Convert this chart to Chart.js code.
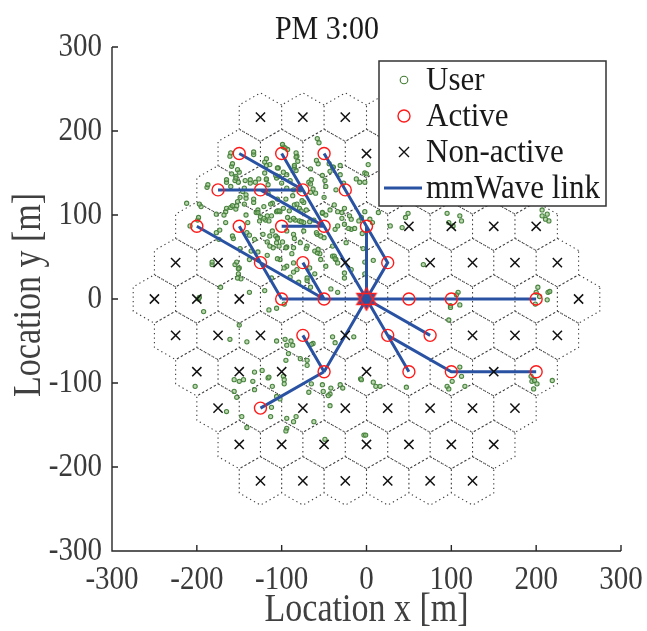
<!DOCTYPE html>
<html>
<head>
<meta charset="utf-8">
<script src="https://cdn.jsdelivr.net/npm/chart.js@4.4.0/dist/chart.umd.min.js"></script>
<style>
  html, body { margin: 0; padding: 0; background: #fff; }
  canvas { display: block; }
</style>
</head>
<body>
<canvas id="chart1" width="647" height="631"></canvas>
<script>
// ---- datos ----
const chartTitle = 'PM 3:00';
const xTicks = [-300, -200, -100, 0, 100, 200, 300];
const yTicks = [-300, -200, -100, 0, 100, 200, 300];

// filas de celdas hexagonales (y de la fila, x de los centros)
const rowY = [216.5, 173.2, 129.9, 86.6, 43.3, 0, -43.3, -86.6, -129.9, -173.2, -216.5];
const rowX = [
  [-125, -75, -25, 25, 75, 125],
  [-150, -100, -50, 0, 50, 100, 150],
  [-175, -125, -75, -25, 25, 75, 125, 175],
  [-200, -150, -100, -50, 0, 50, 100, 150, 200],
  [-225, -175, -125, -75, -25, 25, 75, 125, 175, 225],
  [-250, -200, -150, -100, -50, 0, 50, 100, 150, 200, 250],
  [-225, -175, -125, -75, -25, 25, 75, 125, 175, 225],
  [-200, -150, -100, -50, 0, 50, 100, 150, 200],
  [-175, -125, -75, -25, 25, 75, 125, 175],
  [-150, -100, -50, 0, 50, 100, 150],
  [-125, -75, -25, 25, 75, 125]
];

// estacion base (origen)
const rootNode = [0, 0];

// celdas activas
const activeCells = [
  [-150, 173.2], [-100, 173.2], [-50, 173.2],
  [-175, 129.9], [-125, 129.9], [-75, 129.9], [-25, 129.9],
  [-200, 86.6], [-150, 86.6], [-100, 86.6], [-50, 86.6], [0, 86.6],
  [-125, 43.3], [-75, 43.3], [25, 43.3],
  [-100, 0], [-50, 0], [50, 0], [100, 0], [200, 0],
  [-75, -43.3], [25, -43.3], [75, -43.3],
  [-50, -86.6], [50, -86.6], [100, -86.6], [200, -86.6],
  [-125, -129.9]
];

// celdas no activas
const inactiveCells = [
  [-125, 216.5], [-75, 216.5], [-25, 216.5], [25, 216.5], [75, 216.5], [125, 216.5],
  [0, 173.2], [50, 173.2], [100, 173.2], [150, 173.2],
  [25, 129.9], [75, 129.9], [125, 129.9], [175, 129.9],
  [50, 86.6], [100, 86.6], [150, 86.6], [200, 86.6],
  [-225, 43.3], [-175, 43.3], [-25, 43.3], [75, 43.3], [125, 43.3], [175, 43.3], [225, 43.3],
  [-250, 0], [-200, 0], [-150, 0], [250, 0],
  [-225, -43.3], [-175, -43.3], [-125, -43.3], [-25, -43.3], [125, -43.3], [175, -43.3], [225, -43.3],
  [-200, -86.6], [-150, -86.6], [-100, -86.6], [0, -86.6], [150, -86.6],
  [-175, -129.9], [-75, -129.9], [-25, -129.9], [25, -129.9], [75, -129.9], [125, -129.9], [175, -129.9],
  [-150, -173.2], [-100, -173.2], [-50, -173.2], [0, -173.2], [50, -173.2], [100, -173.2], [150, -173.2],
  [-125, -216.5], [-75, -216.5], [-25, -216.5], [25, -216.5], [75, -216.5], [125, -216.5]
];

// enlaces mmWave (polilineas)
const links = [
  [[-150, 173.2], [-75, 129.9]],
  [[-175, 129.9], [-75, 129.9]],
  [[-100, 173.2], [-50, 86.6]],
  [[-125, 129.9], [-50, 86.6]],
  [[-100, 86.6], [-50, 86.6]],
  [[-50, 86.6], [0, 0]],
  [[-50, 173.2], [0, 86.6]],
  [[0, 86.6], [0, 0]],
  [[0, 86.6], [25, 43.3], [0, 0]],
  [[-200, 86.6], [-50, 0]],
  [[-150, 86.6], [-100, 0]],
  [[-75, 43.3], [-50, 0]],
  [[-100, 0], [200, 0]],
  [[0, 0], [75, -43.3]],
  [[0, 0], [50, -86.6]],
  [[25, -43.3], [100, -86.6], [200, -86.6]],
  [[0, 0], [-50, -86.6]],
  [[-75, -43.3], [-50, -86.6]],
  [[-125, -129.9], [-50, -86.6]]
];

// usuarios (estimados de la figura)
const users = [
  [-98,181],[-93,178],[-56,186],[-133,172],[-161,170],[-82,170],[-81,164],[-159,158],[-120,163],[-104,156],
  [-94,148],[-83,153],[-85,157],[-57,161],[-40,157],[-31,159],[-43,152],[-66,155],[-150,151],[-154,146],
  [-165,139],[-160,134],[-155,141],[-137,138],[-131,139],[-144,132],[-149,121],[-146,128],[-188,133],[-120,150],
  [-118,142],[-106,144],[-100,138],[-90,141],[-86,130],[-78,130],[-68,139],[-66,127],[-60,126],[-49,141],
  [-48,134],[-36,130],[-50,121],[-31,148],[-8,139],[-27,138],
  [-212,114],[-195,110],[-166,104],[-160,109],[-154,107],[-152,116],[-142,120],[-133,115],[-116,126],[-111,114],
  [-121,110],[-130,103],[-125,98],[-117,99],[-119,94],[-126,93],[-106,104],[-102,104],[-98,108],[-85,112],
  [-74,115],[-79,108],[-71,106],[-90,94],[-84,94],[-74,91],[-62,94],[-52,102],[-48,100],[-43,106],
  [-29,96],[-18,95],[-9,93],[-2,104],[-26,108],[-38,112],[-199,94],[-208,87],[-166,91],[-177,79],
  [-174,71],[-157,72],[-141,79],[-132,71],[-122,77],[-114,75],[-105,73],[-106,67],[-110,61],[-117,68],
  [-94,81],[-86,77],[-74,81],[-58,77],[-54,75],[-50,73],[-37,83],[-26,89],[-18,83],[-4,60],
  [-94,62],[-86,61],[-78,67],[-102,47],[-94,39],[-86,43],[-82,35],[-55,54],[-54,47],[-48,39],
  [-40,51],[-36,47],[-34,43],[-26,31],[-18,35],[-182,41],[-155,41],[-150,37],[-151,30],[-148,24],
  [-138,47],[-117,52],[-128,56],[-90,26],[-80,20],[-70,22],[-66,14],[-42,12],[-34,8],[-120,10],
  [-198,0],[-138,8],[-172,14],
  [-105,105],[-103,105],[-91,105],[-77,105],[-52,103],[-34,104],[-29,103],[-20,99],[-6,97],[-112,99],
  [-115,93],[-93,97],[-86,96],[-79,93],[-77,92],[-67,92],[-59,79],[-34,87],[-21,84],[-14,84],
  [-5,78],[-111,81],[-107,75],[-105,72],[-99,68],[-85,72],[-70,63],[-71,60],[-61,57],[-58,55],
  [-57,59],[-40,63],[-38,51],[-37,48],[-24,67],[-114,63],[-103,63],[-95,61],[-105,48],[-88,54],
  [-97,37],[-86,32],[-67,37],[-61,30],[-112,25],[-70,25],[-26,25],[-2,30],
  [-99,184],[-96,180],[-83,174],[-83,169],[-58,191],[-59,165],[-44,161],[-39,157],[-52,147],[-65,142],
  [-66,137],[-63,131],[-85,159],[-105,156],[-107,147],[-98,151],[-103,146],[-114,160],[-118,143],[-116,136],
  [-94,132],[-12,143],[-2,150],[-105,119],[-95,119],[-87,123],[-82,113],[-76,117],[-113,113],
  [-160,174],[-133,175],[-158,161],[-152,154],[-159,149],[-154,144],[-165,142],[-187,136],[-151,139],[-143,141],
  [-137,142],[-127,143],[-118,167],[-118,159],[-142,124],[-133,119],[-197,113],[-158,111],[-144,113],[-165,108],
  [-128,106],
  [-198,97],[-177,101],[-168,100],[-153,111],[-142,100],[-128,103],[-121,96],[-140,91],[-173,82],[-158,75],
  [-138,76],[-149,60],[-136,57],[-153,44],[-151,36],[-152,25],[-182,44],[-197,2],
  [0,149],[-2,139],[2,160],[4,95],[7,91],[14,103],[46,97],[49,102],[42,85],[28,87],
  [95,102],[97,91],[110,99],[112,93],[102,87],[207,106],[207,99],[213,101],[215,93],[211,95],
  [67,41],[-2,44],[8,46],[202,14],[200,8],[214,8],[108,8],[106,5],
  [110,-7],[99,-8],[99,-10],[97,-25],[204,3],[199,-6],[213,-1],[216,9],
  [110,-81],[112,-92],[101,-98],[95,-104],[97,-107],[116,-104],[194,-92],[195,-98],[198,-97],[201,-101],
  [197,-107],[219,-97],[8,-99],[11,-104],[16,-104],[-7,-95],[47,-105],[-3,-162],
  [-192,-15],[-115,-13],[-106,-11],[-97,-6],[-150,-31],[-161,-48],[-141,-51],[-106,-50],[-96,-48],[-89,-50],
  [-94,-55],[-87,-55],[-92,-65],[-95,-73],[-78,-71],[-70,-73],[-70,-79],[-63,-53],[-40,-45],[-37,-52],
  [-15,-45],[-132,-87],[-123,-85],[-116,-94],[-115,-93],[-98,-92],[-97,-96],[-97,-101],[-156,-96],[-150,-98],
  [-145,-96],[-134,-98],[-132,-108],[-202,-104],[-156,-110],[-153,-117],[-111,-104],[-106,-116],[-102,-119],[-65,-101],
  [-68,-111],[-52,-102],[-51,-110],[-42,-106],[-43,-113],[-31,-102],[-28,-106],[-43,-127],[-112,-129],[-113,-140],
  [-94,-142],[-83,-140],[-86,-146],[-94,-154],[-95,-157],[-62,-146],[-147,-140],[-141,-153],[-165,-134],[-49,-167],
  [-6,-96],[-1,-162],[-45,-115],[-65,-54]
];

// ---- construccion de los datasets ----
const hexR = 28.87;
const hexPoints = [];
rowY.forEach((cy, i) => {
  rowX[i].forEach(cx => {
    for (let k = 0; k <= 6; k++) {
      const a = Math.PI / 6 + k * Math.PI / 3;
      hexPoints.push({ x: cx + hexR * Math.cos(a), y: cy + hexR * Math.sin(a) });
    }
    hexPoints.push({ x: cx, y: null });
  });
});

const linkPoints = [];
links.forEach(path => {
  path.forEach(p => linkPoints.push({ x: p[0], y: p[1] }));
  linkPoints.push({ x: path[0][0], y: null });
});

const toXY = arr => arr.map(p => ({ x: p[0], y: p[1] }));

const linkColor = '#2a52a3';

// estrella roja del origen
function makeStar() {
  const c = document.createElement('canvas');
  c.width = 28; c.height = 28;
  const g = c.getContext('2d');
  const r = 11;
  const tri = angs => {
    g.beginPath();
    angs.forEach((d, i) => {
      const a = d * Math.PI / 180;
      const px = 14 + r * Math.cos(a), py = 14 + r * Math.sin(a);
      if (i === 0) g.moveTo(px, py); else g.lineTo(px, py);
    });
    g.closePath();
  };
  g.fillStyle = linkColor;
  tri([-90, 30, 150]); g.fill();
  tri([90, 210, 330]); g.fill();
  g.strokeStyle = '#ff2020';
  g.lineWidth = 1.5;
  tri([-90, 30, 150]); g.stroke();
  tri([90, 210, 330]); g.stroke();
  return c;
}

const serif = '"Liberation Serif", "Times New Roman", serif';

// texto con estiramiento vertical (la figura original esta algo estirada)
function stretchText(ctx, text, x, y, size, align, stretch) {
  ctx.save();
  ctx.font = size + 'px ' + serif;
  ctx.textAlign = align;
  ctx.textBaseline = 'middle';
  ctx.translate(x, y);
  ctx.scale(1, stretch);
  ctx.fillText(text, 0, 0);
  ctx.restore();
}

// leyenda, titulo, ejes
const decor = {
  id: 'decor',
  afterDraw(chart) {
    const { ctx, chartArea: a, scales } = chart;
    const sx = scales.x, sy = scales.y;
    ctx.save();
    ctx.strokeStyle = '#262626';
    ctx.lineWidth = 1.4;
    ctx.beginPath();
    ctx.moveTo(a.left, a.top);
    ctx.lineTo(a.left, a.bottom);
    ctx.lineTo(a.right, a.bottom);
    xTicks.forEach(v => {
      const px = sx.getPixelForValue(v);
      ctx.moveTo(px, a.bottom); ctx.lineTo(px, a.bottom - 6);
    });
    yTicks.forEach(v => {
      const py = sy.getPixelForValue(v);
      ctx.moveTo(a.left, py); ctx.lineTo(a.left + 6, py);
    });
    ctx.stroke();

    // etiquetas de los ejes
    ctx.fillStyle = '#3a3a3a';
    xTicks.forEach(v => stretchText(ctx, String(v), sx.getPixelForValue(v), 580, 29, 'center', 1.18));
    yTicks.forEach(v => stretchText(ctx, String(v), 102, sy.getPixelForValue(v), 29, 'right', 1.18));

    // leyenda
    const bx = 379, by = 61, bw = 227, bh = 145;
    ctx.fillStyle = '#fff';
    ctx.fillRect(bx, by, bw, bh);
    ctx.strokeStyle = '#333';
    ctx.lineWidth = 1.5;
    ctx.strokeRect(bx, by, bw, bh);
    const rows = [80, 116, 152, 188];
    const mx = 404;
    ctx.fillStyle = '#1a1a1a';
    ['User', 'Active', 'Non-active', 'mmWave link'].forEach((t, i) =>
      stretchText(ctx, t, 426, rows[i] + 1, 31, 'left', 1.1));
    // marcadores
    ctx.lineWidth = 1.1;
    ctx.strokeStyle = '#3f7a30';
    ctx.beginPath(); ctx.arc(mx, rows[0], 3.8, 0, Math.PI * 2); ctx.stroke();
    ctx.lineWidth = 1.4;
    ctx.strokeStyle = '#ff1a1a';
    ctx.beginPath(); ctx.arc(mx, rows[1], 6, 0, Math.PI * 2); ctx.stroke();
    ctx.strokeStyle = '#111';
    ctx.beginPath();
    ctx.moveTo(mx - 5, rows[2] - 5); ctx.lineTo(mx + 5, rows[2] + 5);
    ctx.moveTo(mx + 5, rows[2] - 5); ctx.lineTo(mx - 5, rows[2] + 5);
    ctx.stroke();
    ctx.strokeStyle = linkColor;
    ctx.lineWidth = 3;
    ctx.beginPath(); ctx.moveTo(384, rows[3]); ctx.lineTo(422, rows[3]); ctx.stroke();

    // titulo
    ctx.fillStyle = '#1a1a1a';
    stretchText(ctx, chartTitle, 327, 30, 30, 'center', 1.15);

    // titulos de ejes
    ctx.fillStyle = '#404040';
    stretchText(ctx, 'Location x [m]', (a.left + a.right) / 2, 611, 34, 'center', 1.15);
    ctx.translate(30, (a.top + a.bottom) / 2 - 4);
    ctx.rotate(-Math.PI / 2);
    ctx.font = '34px ' + serif;
    ctx.textAlign = 'center';
    ctx.textBaseline = 'middle';
    ctx.scale(1, 1.15);
    ctx.fillText('Location y [m]', 0, 0);
    ctx.restore();
  }
};

new Chart(document.getElementById('chart1').getContext('2d'), {
  type: 'scatter',
  data: {
    datasets: [
      {
        label: 'Root',
        data: [{ x: rootNode[0], y: rootNode[1] }],
        pointStyle: makeStar(),
        order: 1
      },
      {
        label: 'Active',
        data: toXY(activeCells),
        pointStyle: 'circle',
        pointRadius: 6,
        borderColor: '#ff1a1a',
        backgroundColor: 'rgba(0,0,0,0)',
        borderWidth: 1.4,
        order: 2
      },
      {
        label: 'Non-active',
        data: toXY(inactiveCells),
        pointStyle: 'crossRot',
        pointRadius: 6.5,
        borderColor: '#111',
        borderWidth: 1.5,
        order: 3
      },
      {
        label: 'mmWave link',
        data: linkPoints,
        showLine: true,
        spanGaps: false,
        borderColor: linkColor,
        borderWidth: 3,
        pointRadius: 0,
        order: 4
      },
      {
        label: 'User',
        data: toXY(users),
        pointStyle: 'circle',
        pointRadius: 2.1,
        borderColor: '#4a8440',
        backgroundColor: 'rgba(140,190,120,0.6)',
        borderWidth: 1.1,
        order: 5
      },
      {
        label: 'Cells',
        data: hexPoints,
        showLine: true,
        spanGaps: false,
        borderColor: '#3a3a3a',
        borderWidth: 1.1,
        borderDash: [1.3, 3.2],
        pointRadius: 0,
        order: 6
      }
    ]
  },
  options: {
    responsive: false,
    animation: false,
    events: [],
    layout: { padding: { left: 0, right: 26, top: 47, bottom: 0 } },
    plugins: { legend: { display: false }, tooltip: { enabled: false } },
    scales: {
      x: {
        type: 'linear',
        min: -300, max: 300,
        afterFit: s => { s.height = 80; },
        afterBuildTicks: s => { s.ticks = xTicks.map(v => ({ value: v })); },
        grid: { display: false, drawTicks: false },
        border: { display: false },
        ticks: { display: false }
      },
      y: {
        type: 'linear',
        min: -300, max: 300,
        afterFit: s => { s.width = 112; },
        afterBuildTicks: s => { s.ticks = yTicks.map(v => ({ value: v })); },
        grid: { display: false, drawTicks: false },
        border: { display: false },
        ticks: { display: false }
      }
    }
  },
  plugins: [decor]
});
</script>
</body>
</html>
